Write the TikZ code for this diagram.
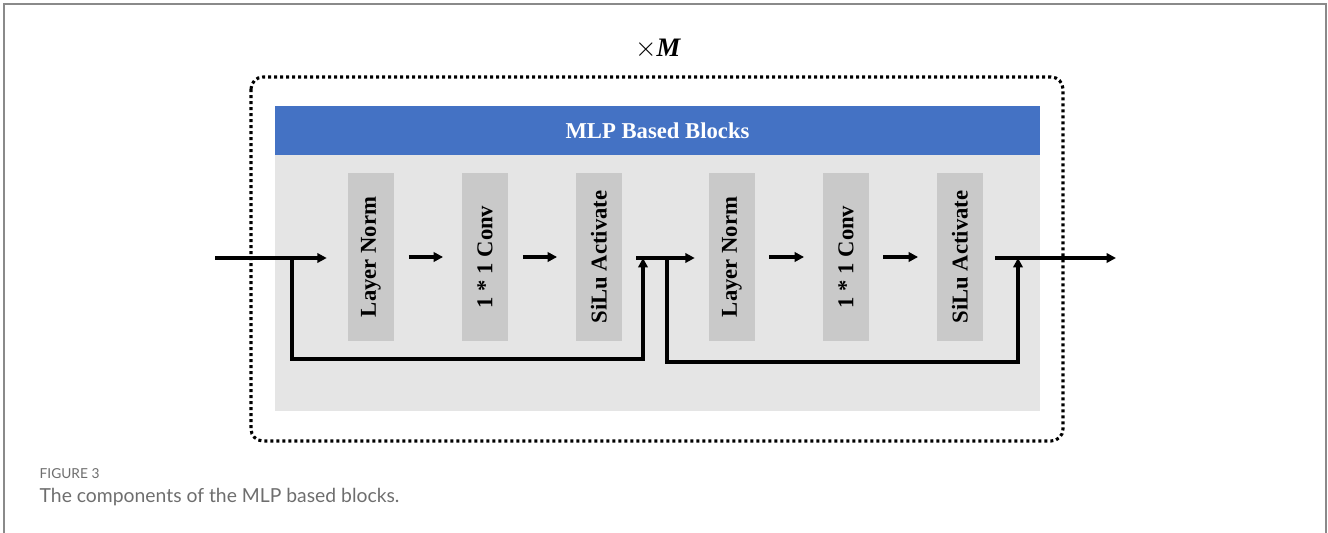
\documentclass[tikz,border=0pt]{standalone}
\usepackage{fontspec}
\setmainfont{Liberation Serif}
\newfontfamily\capfont{Lato}
\usetikzlibrary{arrows.meta}
\definecolor{hdrblue}{HTML}{4472C4}
\definecolor{bggray}{HTML}{E5E5E5}
\definecolor{blkgray}{HTML}{C9C9C9}
\definecolor{framegray}{HTML}{8A8A8A}
\definecolor{capgray}{HTML}{6E6E6E}
\tikzset{
  blk/.style={fill=blkgray, minimum width=34.5pt, minimum height=126pt, inner sep=0pt,
    font=\fontsize{17}{20}\selectfont\bfseries},
  arr/.style={line width=2.5pt, -{Triangle[length=7pt,width=7pt]}},
  dotbox/.style={line width=2.3pt, dash pattern=on 2.3pt off 2.2pt, rounded corners=9pt},
}
\begin{document}
\begin{tikzpicture}[x=0.75pt,y=-0.75pt]
\useasboundingbox (0,0) rectangle (1328,532);
% page frame
\draw[framegray, line width=1.3pt] (4,540) -- (4,4) -- (1326,4) -- (1326,540);
% dotted repeat box
\draw[dotbox] (251,77) rectangle (1063,441);
\node[font=\fontsize{20}{24}\selectfont] (rep) at (658,49) {$\times$\textbf{\textit{M}}};
% background and header
\fill[bggray] (275,106) rectangle (1040,411);
\fill[hdrblue] (275,106) rectangle (1040,155);
\node[text=white, font=\fontsize{17}{20}\selectfont\bfseries] (hdr) at (657.5,131) {MLP Based Blocks};
% blocks
\node[blk] (b1) at (371,257) {\rotatebox{90}{Layer Norm}};
\node[blk] (b2) at (485,257) {\rotatebox{90}{1 * 1 Conv}};
\node[blk] (b3) at (599,257) {\rotatebox{90}{SiLu Activate}};
\node[blk] (b4) at (732,257) {\rotatebox{90}{Layer Norm}};
\node[blk] (b5) at (846,257) {\rotatebox{90}{1 * 1 Conv}};
\node[blk] (b6) at (960,257) {\rotatebox{90}{SiLu Activate}};
% coordinates
\coordinate (in) at (215,258);
\coordinate (j1) at (292,258);
\coordinate (m1) at (643,258);
\coordinate (j2) at (667,258);
\coordinate (m2) at (1018,258);
\coordinate (out) at (1116,258);
% main flow
\draw[arr, shorten >=15.75pt] (in) -- (b1.west |- in);
\draw[arr, shorten <=11pt, shorten >=14pt] (b1.east) -- (b2.west);
\draw[arr, shorten <=11pt, shorten >=14pt] (b2.east) -- (b3.west);
\draw[arr, shorten <=10.5pt, shorten >=10.5pt] (b3.east |- in) -- (b4.west |- in);
\draw[arr, shorten <=10.5pt, shorten >=14pt] (b4.east) -- (b5.west);
\draw[arr, shorten <=10.5pt, shorten >=14pt] (b5.east) -- (b6.west);
\draw[arr, shorten <=9pt] (b6.east |- in) -- (out);
% skip connections
\draw[arr] (j1) -- (292,359) -- (643,359) -- (m1);
\draw[arr] (j2) -- (667,362) -- (1018,362) -- (m2);
% caption
\node[anchor=west, text=capgray, font=\capfont\fontsize{10.3}{12}\selectfont] (fig) at (35,474) {FIGURE 3};
\node[anchor=west, text=capgray, font=\capfont\fontsize{14.5}{17}\selectfont] (cap) at (35,497) {The components of the MLP based blocks.};
\end{tikzpicture}
\end{document}
